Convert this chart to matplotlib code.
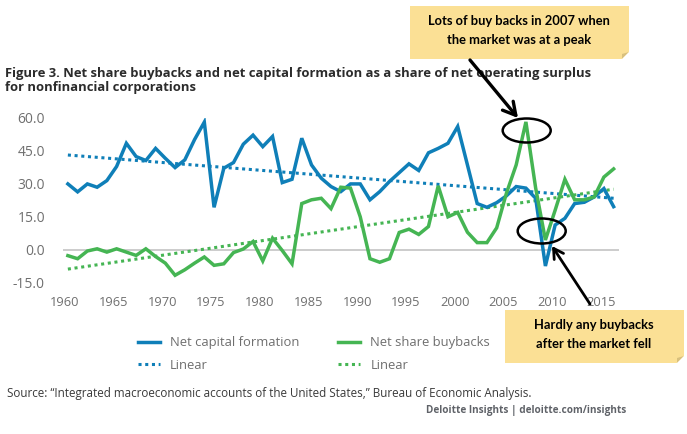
import matplotlib
matplotlib.use("Agg")
import matplotlib.pyplot as plt
from matplotlib.patches import Rectangle, Polygon, Ellipse
from matplotlib.transforms import ScaledTranslation

years = list(range(1960, 2017))
capital = [29.9, 26.3, 29.9, 28.4, 31.4, 37.8, 48.3, 42.3, 40.5, 46.0,
           41.5, 37.3, 40.8, 50.0, 57.9, 19.3, 37.0, 39.6, 47.9, 52.0,
           46.8, 51.4, 30.5, 32.0, 50.6, 38.5, 32.5, 28.7, 26.4, 29.9,
           29.9, 22.7, 26.4, 31.0, 35.0, 39.0, 36.0, 44.0, 46.0, 48.3,
           55.9, 38.5, 21.0, 19.3, 21.4, 24.5, 28.7, 28.0, 23.4, -7.3,
           11.3, 14.3, 21.0, 21.6, 24.0, 27.8, 19.6]
buybacks = [-2.6, -4.0, -0.5, 0.5, -1.0, 0.5, -1.0, -2.5, 0.5, -3.0,
            -6.0, -11.5, -9.0, -6.0, -3.2, -7.0, -6.3, -1.2, 0.4, 3.8,
            -5.0, 5.3, -0.3, -6.3, 21.0, 22.7, 23.4, 18.7, 28.4, 28.0,
            15.0, -4.0, -5.6, -4.0, 7.9, 9.4, 7.0, 10.6, 29.0, 15.0,
            17.0, 8.0, 3.3, 3.3, 10.0, 25.7, 38.5, 58.0, 28.0, 4.5,
            18.0, 32.0, 22.7, 22.7, 24.0, 33.0, 36.7]
trend_years = [1960, 2016]
capital_trend = [43.0, 23.4]
buybacks_trend = [-8.7, 27.5]
y_ticks = [-15, 0, 15, 30, 45, 60]
x_ticks = list(range(1960, 2016, 5))

BLUE = "#0F7FB8"
GREEN = "#45B553"
GRAY = "#6F6F6F"
W, H = 687, 434
plt.rcParams["font.family"] = ["Open Sans", "DejaVu Sans"]

fig = plt.figure(figsize=(W / 100, H / 100), dpi=100, facecolor="white")
ax = fig.add_axes([63 / W, 1 - 283 / H, 555.5 / W, 165.5 / H])
ax.set_xlim(1959.5, 2016.5)
ax.set_ylim(-15, 60)
ax.axhline(0, color="#C4C4C4", lw=1.2, zorder=1)
dots = (0, (1, 1.2))
ax.plot(trend_years, capital_trend, color=BLUE, lw=2.2, ls=dots, label="Linear", zorder=2)
ax.plot(trend_years, buybacks_trend, color=GREEN, lw=2.2, ls=dots, label="Linear", zorder=2)
ax.plot(years, capital, color=BLUE, lw=2.5, label="Net capital formation", zorder=3, solid_joinstyle="miter")
ax.plot(years, buybacks, color=GREEN, lw=2.5, label="Net share buybacks", zorder=4, solid_joinstyle="miter")
for s in ax.spines.values():
    s.set_visible(False)
ax.set_xticks(x_ticks)
ax.set_yticks(y_ticks)
ax.set_yticklabels([f"{v:.1f}" for v in y_ticks])
ax.tick_params(axis="both", length=0, colors=GRAY)
ax.tick_params(axis="y", labelsize=10, pad=13)
ax.tick_params(axis="x", labelsize=9.3, pad=9)
shift = ScaledTranslation(-3 / 100, 0, fig.dpi_scale_trans)
for lab in ax.get_xticklabels():
    lab.set_transform(lab.get_transform() + shift)
ax.patch.set_alpha(0)

h = ax.get_legend_handles_labels()[0]
leg = fig.legend([h[2], h[0], h[3], h[1]],
                 ["Net capital formation", "Linear", "Net share buybacks", "Linear"],
                 ncol=2, frameon=False, fontsize=9.4, labelcolor=GRAY,
                 loc="center left", bbox_to_anchor=(126 / W, 1 - 354 / H),
                 handlelength=1.7, handletextpad=0.75, columnspacing=3.0, labelspacing=0.75)

ov = fig.add_axes([0, 0, 1, 1], zorder=10)
ov.set_xlim(0, W)
ov.set_ylim(H, 0)
ov.axis("off")

ov.text(5, 73, "Figure 3. Net share buybacks and net capital formation as a share of net operating surplus",
        fontsize=9.39, fontweight="bold", color="#2B2B2B", va="center")
ov.text(5, 88, "for nonfinancial corporations", fontsize=9.39, fontweight="bold", color="#2B2B2B", va="center")
ov.text(7, 394, "Source: \u201cIntegrated macroeconomic accounts of the United States,\u201d Bureau of Economic Analysis.",
        fontsize=8.35, color="#3A3A3A", va="center")
ov.text(626, 411, "Deloitte Insights | deloitte.com/insights", fontsize=7.2, fontweight="bold",
        color="#5F6268", va="center", ha="right")


def note(x0, y0, x1, y1, lines, cx):
    ov.add_patch(Rectangle((x0, y0), x1 - x0, y1 - y0, fc="#FBE095", ec="none", zorder=1))
    ov.add_patch(Polygon([(x1, y1 - 7), (x1 - 7, y1), (x1 - 7, y1 - 5)], fc="#D8C07E", ec="none", zorder=2))
    ov.add_patch(Polygon([(x1, y1 - 7), (x1 - 7, y1), (x1 + 0.5, y1 + 0.5)], fc="white", ec="none", zorder=2))
    for t, y in lines:
        ov.text(cx, y, t, fontsize=9.3, family="Lato", fontweight="bold", color="black",
                ha="center", va="center", zorder=3)


note(410, 6, 629, 59, [("Lots of buy backs in 2007 when", 21), ("the market was at a peak", 40)], 519)
note(505, 310, 684, 363, [("Hardly any buybacks", 325), ("after the market fell", 344)], 594)

ov.add_patch(Ellipse((526.7, 130.5), 48, 24, fc="none", ec="black", lw=1.8, zorder=5))
ov.add_patch(Ellipse((541.7, 231), 48, 25, fc="none", ec="black", lw=1.8, zorder=5))
ov.annotate("", xy=(518, 118), xytext=(470, 60),
            arrowprops=dict(arrowstyle="->,head_length=0.9,head_width=0.5", color="black", lw=2.4, shrinkA=0, shrinkB=0))
ov.annotate("", xy=(552, 246), xytext=(590, 304),
            arrowprops=dict(arrowstyle="->,head_length=0.7,head_width=0.4", color="black", lw=2, shrinkA=0, shrinkB=0))

fig.savefig("out.png", dpi=100)
